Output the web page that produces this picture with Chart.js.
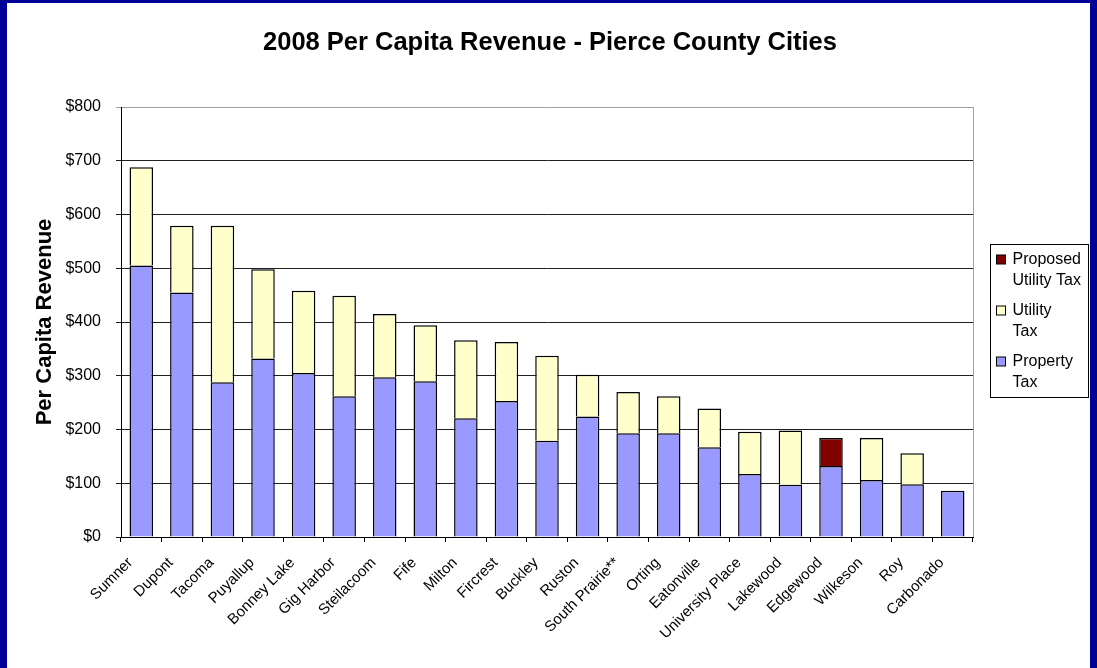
<!DOCTYPE html>
<html>
<head>
<meta charset="utf-8">
<title>2008 Per Capita Revenue - Pierce County Cities</title>
<script src="https://cdn.jsdelivr.net/npm/chart.js@4.4.1/dist/chart.umd.min.js"></script>
<style>
    html, body { margin: 0; padding: 0; }
    body { width: 1097px; height: 668px; background: #000099; position: relative; overflow: hidden; }
    #panel { position: absolute; left: 7px; top: 3px; width: 1083px; height: 665px; background: #ffffff; }
    #wrap { position: absolute; left: 0; top: 0; width: 1097px; height: 668px; }
</style>
</head>
<body>
<div id="panel"></div>
<div id="wrap"><canvas id="revenueChart"></canvas></div>
<script>
// Orașele (categoriile de pe axa X)
const cities = ["Sumner", "Dupont", "Tacoma", "Puyallup", "Bonney Lake", "Gig Harbor", "Steilacoom",
    "Fife", "Milton", "Fircrest", "Buckley", "Ruston", "South Prairie**", "Orting", "Eatonville",
    "University Place", "Lakewood", "Edgewood", "Wilkeson", "Roy", "Carbonado"];

// Valorile pe cap de locuitor, pe tipuri de taxă
const propertyTax = [505, 455, 288, 332, 305, 262, 297, 290, 221, 253, 179, 224, 193, 193, 167, 117, 97, 132, 106, 98, 86];
const utilityTax = [183, 124, 291, 166, 153, 187, 118, 104, 145, 110, 158, 78, 77, 69, 72, 79, 101, null, 78, 58, null];
const proposedUtilityTax = [null, null, null, null, null, null, null, null, null, null, null, null, null, null, null, null, null, 52, null, null, null];

// Etichetele axei Y
const yTicks = [0, 100, 200, 300, 400, 500, 600, 700, 800];

// Titlul și textul legendei, pe rânduri (de sus în jos)
const chartTitle = "2008 Per Capita Revenue - Pierce County Cities";
const legendLines = [["Proposed", "Utility Tax"], ["Utility", "Tax"], ["Property", "Tax"]];

const FONT = "'Liberation Sans', Arial, sans-serif";

// Titlul, legenda cu chenar și marginea dreaptă a zonei graficului
const decorations = {
    id: 'decorations',
    afterDraw(chart) {
        const ctx = chart.ctx;
        const area = chart.chartArea;
        ctx.save();

        // titlul, centrat pe pagină
        ctx.fillStyle = '#000000';
        ctx.font = 'bold 25.5px ' + FONT;
        ctx.textAlign = 'center';
        ctx.textBaseline = 'middle';
        ctx.fillText(chartTitle, 550, 43);

        ctx.strokeStyle = '#a0a0a0';
        ctx.lineWidth = 1;
        ctx.beginPath();
        ctx.moveTo(Math.round(area.right) + 0.5, area.top);
        ctx.lineTo(Math.round(area.right) + 0.5, area.bottom);
        ctx.stroke();

        const x = Math.round(area.right) + 17.5;
        const y = 244.5;
        ctx.strokeStyle = '#000000';
        ctx.strokeRect(x, y, 98, 153);

        // seriile apar în legendă în ordine inversă (Proposed sus)
        const order = [2, 1, 0];
        ctx.font = '16px ' + FONT;
        ctx.textAlign = 'left';
        order.forEach((dsIndex, i) => {
            const ds = chart.data.datasets[dsIndex];
            const lineY = 260 + i * 51;
            ctx.fillStyle = ds.backgroundColor;
            ctx.fillRect(x + 6, lineY - 5, 9, 9);
            ctx.strokeStyle = '#000000';
            ctx.strokeRect(x + 6, lineY - 5, 9, 9);
            ctx.fillStyle = '#000000';
            legendLines[i].forEach((line, j) => {
                ctx.fillText(line, x + 22, lineY + j * 21);
            });
        });
        ctx.restore();
    }
};

const ctx = document.getElementById('revenueChart').getContext('2d');
const revenueChart = new Chart(ctx, {
    type: 'bar',
    data: {
        labels: cities,
        datasets: [
            {
                label: "Property Tax",
                data: propertyTax,
                backgroundColor: "#9999FF",
                borderColor: "#000000",
                borderWidth: 1.5
            },
            {
                label: "Utility Tax",
                data: utilityTax,
                backgroundColor: "#FFFFCC",
                borderColor: "#000000",
                borderWidth: 1.5
            },
            {
                label: "Proposed Utility Tax",
                data: proposedUtilityTax,
                backgroundColor: "#800000",
                borderColor: "#000000",
                borderWidth: 1.5
            }
        ]
    },
    options: {
        responsive: true,
        maintainAspectRatio: false,
        animation: false,
        layout: {
            padding: { left: 28, right: 124, top: 107, bottom: 0 }
        },
        datasets: {
            bar: { barPercentage: 0.58, categoryPercentage: 1 }
        },
        plugins: {
            legend: { display: false },
            tooltip: { enabled: false },
            title: { display: false }
        },
        scales: {
            x: {
                stacked: true,
                afterFit(scale) { scale.height = 131; },
                grid: {
                    drawOnChartArea: false,
                    drawTicks: true,
                    tickLength: 5,
                    color: '#000000'
                },
                border: { color: '#000000', width: 1 },
                ticks: {
                    autoSkip: false,
                    maxRotation: 45,
                    minRotation: 45,
                    padding: 12,
                    labelOffset: -11,
                    color: '#000000',
                    font: { family: FONT, size: 15 }
                }
            },
            y: {
                stacked: true,
                min: 0,
                max: 800,
                afterFit(scale) { scale.width = 93; },
                afterBuildTicks(scale) {
                    scale.ticks = yTicks.map(v => ({ value: v }));
                },
                grid: {
                    tickLength: 5,
                    color: ctx => ctx.tick && ctx.tick.value === 800 ? '#a0a0a0' : '#202020',
                    lineWidth: 1
                },
                border: { color: '#000000', width: 1 },
                ticks: {
                    padding: 15,
                    color: '#000000',
                    font: { family: FONT, size: 16 },
                    callback: value => '$' + value
                },
                title: {
                    display: true,
                    text: "Per Capita Revenue",
                    color: '#000000',
                    font: { family: FONT, size: 22, weight: 'bold' }
                }
            }
        }
    },
    plugins: [decorations]
});
</script>
</body>
</html>
